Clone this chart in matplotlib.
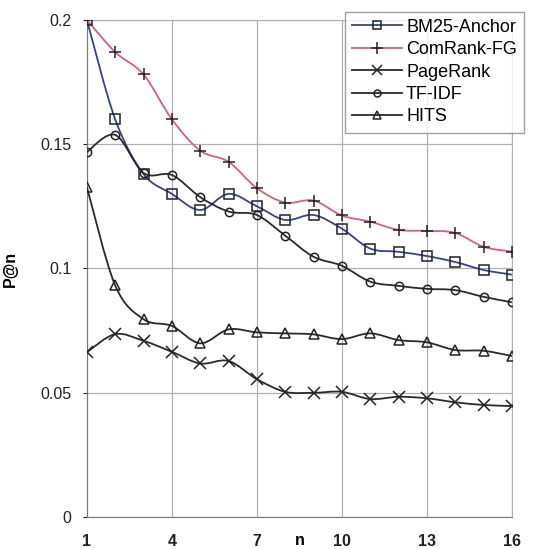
import numpy as np
import matplotlib
matplotlib.use('Agg')
import matplotlib.pyplot as plt
from matplotlib.path import Path
from matplotlib.patches import PathPatch
from matplotlib.lines import Line2D

plt.rcParams['font.family'] = ['Liberation Sans', 'DejaVu Sans']

n = list(range(1, 17))
bm25_anchor = [0.200, 0.160, 0.138, 0.130, 0.1235, 0.130, 0.125, 0.1195,
               0.1215, 0.116, 0.108, 0.1067, 0.105, 0.1026, 0.0994, 0.0975]
comrank_fg = [0.200, 0.187, 0.178, 0.160, 0.1474, 0.1429, 0.1323, 0.1265,
              0.1273, 0.1213, 0.1188, 0.1155, 0.1151, 0.1143, 0.1087, 0.1068]
pagerank = [0.0663, 0.0736, 0.0709, 0.0665, 0.0618, 0.0628, 0.0555, 0.0504,
            0.0500, 0.0504, 0.0475, 0.0484, 0.0478, 0.0462, 0.0451, 0.0447]
tf_idf = [0.1468, 0.1537, 0.1384, 0.1376, 0.1287, 0.1229, 0.1215, 0.1132,
          0.1047, 0.1011, 0.0947, 0.0930, 0.0918, 0.0913, 0.0886, 0.0864]
hits = [0.1328, 0.0932, 0.0796, 0.0769, 0.0699, 0.0755, 0.0743, 0.0739,
        0.0735, 0.0716, 0.0739, 0.0712, 0.0703, 0.0672, 0.0669, 0.0648]

x_ticks = [1, 4, 7, 10, 13, 16]
y_ticks = [0, 0.05, 0.1, 0.15, 0.2]
y_labels = ['0', '0.05', '0.1', '0.15', '0.2']


def smooth_path(xs, ys):
    # excel style smoothed line: cubic bezier through every point
    pts = np.column_stack([xs, ys]).astype(float)
    ext = np.vstack([pts[0], pts, pts[-1]])
    verts = [pts[0]]
    codes = [Path.MOVETO]
    for i in range(len(pts) - 1):
        p0, p1, p2, p3 = ext[i], ext[i + 1], ext[i + 2], ext[i + 3]
        verts += [p1 + (p2 - p0) / 6, p2 - (p3 - p1) / 6, p2]
        codes += [Path.CURVE4] * 3
    return Path(verts, codes)


fig = plt.figure(figsize=(5.36, 5.49), dpi=100)
ax = fig.add_axes([0.162, 0.058, 0.793, 0.906])

series = [
    ('BM25-Anchor', bm25_anchor, '#34448a', 's', 7, 'none'),
    ('ComRank-FG', comrank_fg, '#d4607a', '+', 9, '#222222'),
    ('PageRank', pagerank, '#2a2a2a', 'x', 8, '#222222'),
    ('TF-IDF', tf_idf, '#2a2a2a', 'o', 6, 'none'),
    ('HITS', hits, '#2a2a2a', '^', 7, 'none'),
]

handles = []
for label, vals, col, mk, ms, fc in series:
    patch = PathPatch(smooth_path(n, vals), facecolor='none', edgecolor=col,
                      lw=1.3, zorder=3)
    ax.add_patch(patch)
    ax.plot(n, vals, linestyle='none', marker=mk, markersize=ms,
            markerfacecolor=fc, markeredgecolor='#222222', markeredgewidth=1.1,
            zorder=4)
    handles.append(Line2D([], [], color=col, lw=1.3, marker=mk, markersize=ms - 1,
                          markerfacecolor=fc, markeredgecolor='#222222',
                          markeredgewidth=1.1, label=label))

ax.set_xlim(1, 16)
ax.set_ylim(0, 0.2)
ax.set_xticks(x_ticks)
ax.set_xticklabels([str(t) for t in x_ticks], fontweight='bold', fontsize=11.5)
ax.set_yticks(y_ticks)
ax.set_yticklabels(y_labels, fontsize=11.5)
ax.tick_params(axis='x', length=0, pad=12, colors='#222222')
ax.tick_params(axis='y', length=3, pad=8, colors='#222222', direction='out')
ax.grid(True, color='#b0b0b0', lw=0.9)
ax.set_axisbelow(True)
for s in ['top', 'right']:
    ax.spines[s].set_color('#b0b0b0')
for s in ['left', 'bottom']:
    ax.spines[s].set_color('#777777')

ax.set_ylabel('P@n', fontweight='bold', fontsize=11.5, labelpad=16)
ax.text(8.5, -0.046, 'n', transform=ax.get_xaxis_transform(), ha='center',
        va='center', fontweight='bold', fontsize=11.5)

leg = fig.legend(handles=handles, loc='upper left', bbox_to_anchor=(0.643, 0.979),
                 fontsize=13, frameon=True, fancybox=False, handlelength=2.8,
                 handletextpad=0.2, borderpad=0.4, labelspacing=0.3,
                 borderaxespad=0)
leg.get_frame().set_edgecolor('#888888')
leg.get_frame().set_linewidth(1.0)

fig.savefig('out.png', dpi=100)
